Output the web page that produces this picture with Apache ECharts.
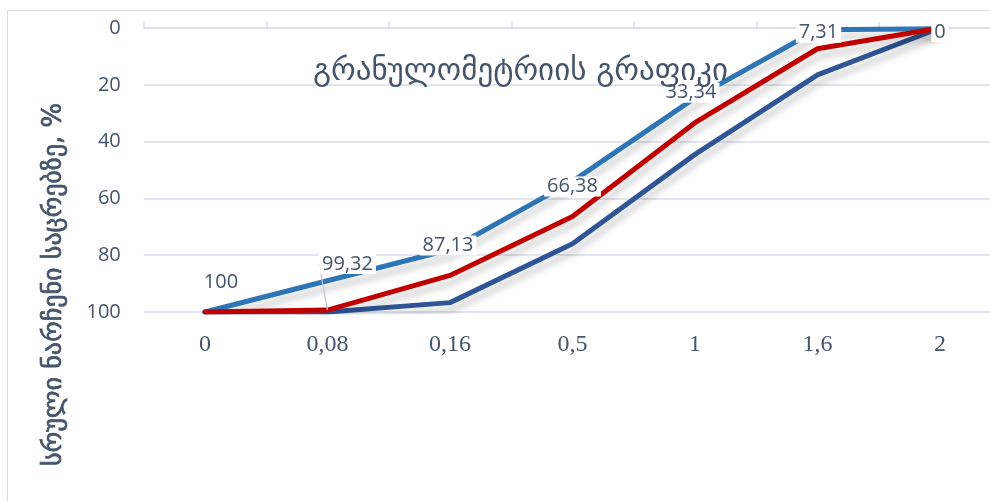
<!DOCTYPE html>
<html>
<head>
<meta charset="utf-8">
<script src="https://cdn.jsdelivr.net/npm/echarts@6/dist/echarts.min.js"></script>
<style>
  html, body { margin: 0; padding: 0; background: #fff; }
  #chart { width: 990px; height: 501px; }
</style>
</head>
<body>
<div id="chart"></div>
<script>
// Sieve sizes (mm) along the horizontal axis
const sieveSizes = ['0', '0,08', '0,16', '0,5', '1', '1,6', '2'];
// Cumulative residue on sieves, % — upper envelope, measured sample, lower envelope
const upperBound = [100, 89, 78, 54, 24.6, 0.6, 0.3];
const sample = [100, 99.32, 87.13, 66.38, 33.34, 7.31, 0];
const lowerBound = [100, 100, 96.7, 76, 44.5, 16.5, 0];
const yTicks = [0, 20, 40, 60, 80, 100];

const titleText = 'გრანულომეტრიის გრაფიკი';
const yAxisTitle = 'სრული ნარჩენი საცრებზე, %';

// Label nudges for the measured-sample values (dx, dy in px)
const labelNudge = [[16, 0], [20, -16], [-2, 0], [0, 0], [-4, 0], [1, 14], [0, 34]];

const textColor = '#44546a';
const gridColor = '#d9dde4';

const chart = echarts.init(document.getElementById('chart'), null, { renderer: 'canvas' });

const fmt = v => String(v).replace('.', ',');

const shadow = {
  shadowColor: 'rgba(0,0,0,0.2)',
  shadowBlur: 7,
  shadowOffsetX: 2,
  shadowOffsetY: 7
};

const option = {
  animation: false,
  backgroundColor: '#fff',
  grid: {
    left: 143.75, top: 28, width: 857.5, height: 284,
    outerBoundsMode: 'none',
    containLabel: false
  },
  xAxis: [
    {
      type: 'category',
      data: sieveSizes,
      position: 'top',
      boundaryGap: true,
      axisLine: { show: true, lineStyle: { color: gridColor, width: 1.5 } },
      axisTick: { show: true, inside: false, length: 6, lineStyle: { color: gridColor, width: 1.5 } },
      axisLabel: { show: false },
      splitLine: { show: false }
    },
    {
      type: 'category',
      data: sieveSizes,
      position: 'bottom',
      boundaryGap: true,
      axisLine: { show: false },
      axisTick: { show: false },
      axisLabel: {
        show: true,
        margin: 21,
        color: textColor,
        fontSize: 24,
        fontFamily: '"Liberation Serif", serif'
      },
      splitLine: { show: false }
    }
  ],
  yAxis: {
    type: 'value',
    inverse: true,
    min: yTicks[0],
    max: yTicks[yTicks.length - 1],
    interval: 20,
    axisLine: { show: false },
    axisTick: { show: false },
    axisLabel: {
      margin: 23,
      color: textColor,
      fontSize: 20,
      fontFamily: '"Open Sans", sans-serif'
    },
    splitLine: { show: true, lineStyle: { color: gridColor, width: 1.5 } }
  },
  graphic: [
    {
      type: 'rect',
      shape: { x: 7.5, y: 10.5, width: 1000, height: 600 },
      style: { fill: 'none', stroke: '#d9dde4', lineWidth: 1 },
      silent: true,
      z: -10
    },
    {
      type: 'text',
      left: 313,
      top: 56,
      style: {
        text: titleText,
        fill: textColor,
        fontSize: 31,
        fontFamily: '"DejaVu Sans", sans-serif'
      },
      z: 5
    },
    {
      type: 'text',
      x: 41,
      y: 466,
      rotation: Math.PI / 2,
      style: {
        text: yAxisTitle,
        fill: textColor,
        stroke: textColor,
        lineWidth: 0.7,
        fontSize: 26,
        fontFamily: '"DejaVu Sans", sans-serif'
      }
    }
  ],
  series: [
    {
      name: 'lower',
      type: 'line',
      xAxisIndex: 0,
      data: lowerBound,
      showSymbol: false,
      symbol: 'none',
      lineStyle: Object.assign({ color: '#2f5597', width: 5, cap: 'round', join: 'round' }, shadow),
      z: 2
    },
    {
      name: 'upper',
      type: 'line',
      xAxisIndex: 0,
      data: upperBound,
      showSymbol: false,
      symbol: 'none',
      lineStyle: Object.assign({ color: '#2e75b6', width: 5, cap: 'round', join: 'round' }, shadow),
      z: 3
    },
    {
      name: 'sample',
      type: 'line',
      xAxisIndex: 0,
      data: sample.map((v, i) => ({
        value: v,
        labelLine: { show: i === 1, lineStyle: { color: '#bfc6d0', width: 1.2 } }
      })),
      showSymbol: true,
      symbol: 'circle',
      symbolSize: 0,
      itemStyle: { color: '#c00000' },
      lineStyle: Object.assign({ color: '#c00000', width: 5, cap: 'round', join: 'round' }, shadow),
      label: {
        show: true,
        position: 'top',
        distance: 20,
        formatter: p => fmt(p.value),
        color: textColor,
        fontSize: 20,
        fontFamily: '"Open Sans", sans-serif',
        backgroundColor: '#fff',
        padding: [0, 3]
      },
      labelLayout: p => ({ dx: labelNudge[p.dataIndex][0], dy: labelNudge[p.dataIndex][1] }),
      z: 4
    }
  ]
};

chart.setOption(option);
</script>
</body>
</html>
